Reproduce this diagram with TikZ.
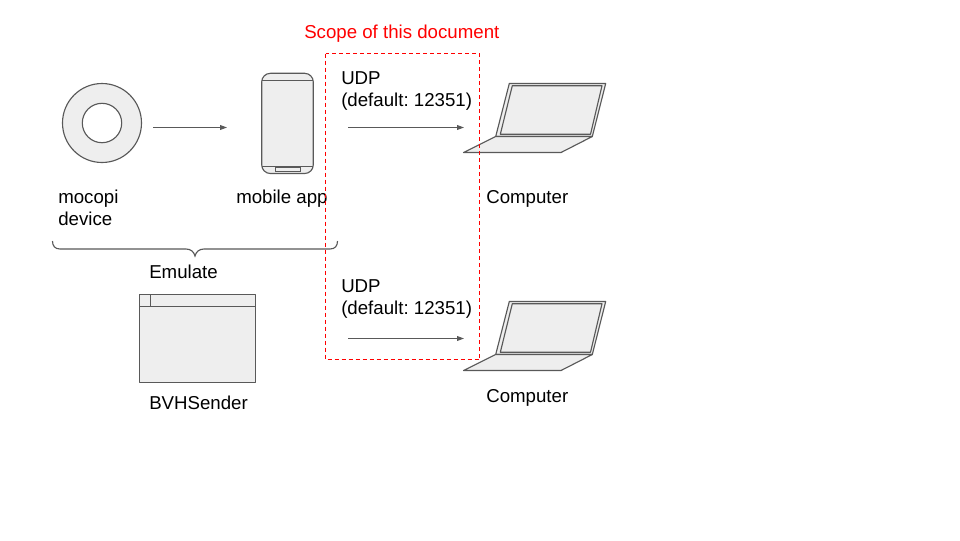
\documentclass[tikz,border=0pt]{standalone}
\usepackage{fontspec}
\setmainfont{Liberation Sans}
\frenchspacing
\usetikzlibrary{arrows.meta}
\definecolor{ln}{HTML}{595959}
\definecolor{fl}{HTML}{EEEEEE}
\definecolor{scopered}{HTML}{FF0000}
\tikzset{
  px/.style={x=0.75pt,y=-0.75pt},
  shp/.style={draw=ln,fill=fl,line width=0.85pt,line join=round},
  thin line/.style={draw=ln,line width=0.85pt},
  conn/.style={draw=ln,line width=0.75pt,-{Triangle[length=5.2pt,width=3.6pt]}},
  lbl/.style={inner sep=0pt,anchor=base west,align=left,font=\fontsize{14pt}{16.5pt}\selectfont\frenchspacing,text=black},
}
\begin{document}
\begin{tikzpicture}[px]
\useasboundingbox (0,0) rectangle (960,540);
\fill[white] (0,0) rectangle (960,540);
% mocopi device
\path[shp] (102,123) circle (39.5);
\path[draw=ln,fill=white,line width=0.85pt] (102,123) circle (19.7);
% phone
\path[shp,rounded corners=6.5pt] (261.7,73.3) rectangle (313.3,173.5);
\draw[thin line] (261.7,80.3) -- (313.3,80.3) (261.7,166.7) -- (313.3,166.7);
\draw[thin line] (275.7,167.3) rectangle (300.7,171.5);
% laptop top
\path[shp] (509.3,83.5) -- (605.7,83.5) -- (592.3,136.5) -- (495.7,136.5) -- cycle;
\path[shp] (512.3,85.7) -- (602,85.7) -- (590.5,134.3) -- (500.3,134.3) -- cycle;
\path[shp] (495.7,136.5) -- (592.3,136.5) -- (561,152.5) -- (463.5,152.5) -- cycle;
% laptop bottom
\path[shp] (509.3,301.5) -- (605.7,301.5) -- (592.3,354.5) -- (495.7,354.5) -- cycle;
\path[shp] (512.3,303.7) -- (602,303.7) -- (590.5,352.3) -- (500.3,352.3) -- cycle;
\path[shp] (495.7,354.5) -- (592.3,354.5) -- (561,370.5) -- (463.5,370.5) -- cycle;
% window
\path[shp] (139.5,294.5) rectangle (255.5,382.5);
\draw[thin line] (139.5,306.5) -- (255.5,306.5) (150.5,294.5) -- (150.5,306.5);
% brace
\draw[thin line] (52.5,241) .. controls (52.5,246) and (55,249) .. (60,249) -- (186,249) .. controls (191,249) and (194,252) .. (195,256) .. controls (196,252) and (199,249) .. (204,249) -- (330,249) .. controls (335,249) and (337.5,246) .. (337.5,241);
% connectors
\coordinate (a1) at (153,127.5); \coordinate (a2) at (227,127.5);
\coordinate (b1) at (348,127.5); \coordinate (b2) at (464,127.5);
\coordinate (c1) at (348,338.5); \coordinate (c2) at (464,338.5);
\draw[conn] (a1) -- (a2);
\draw[conn] (b1) -- (b2);
\draw[conn] (c1) -- (c2);
% labels
\node[lbl,text=scopered] (scope) at (304,38) {Scope of this document};
\node[lbl] (mocopi) at (58,225.5) {mocopi\\device};
\node[lbl] (mobile) at (236,203) {mobile app};
\node[lbl] (udp1) at (341,106.5) {UDP\\(default: 12351)};
\node[lbl] (comp1) at (486,203) {Computer};
\node[lbl] (emulate) at (149,278) {Emulate};
\node[lbl] (udp2) at (341,314.5) {UDP\\(default: 12351)};
\node[lbl] (comp2) at (486,402) {Computer};
\node[lbl] (bvh) at (149,409) {BVHSender};
% scope box
\draw[draw=scopered,line width=0.75pt,dash pattern=on 3pt off 2.25pt] (325.5,53.5) rectangle (479.5,359.5);
\end{tikzpicture}
\end{document}
